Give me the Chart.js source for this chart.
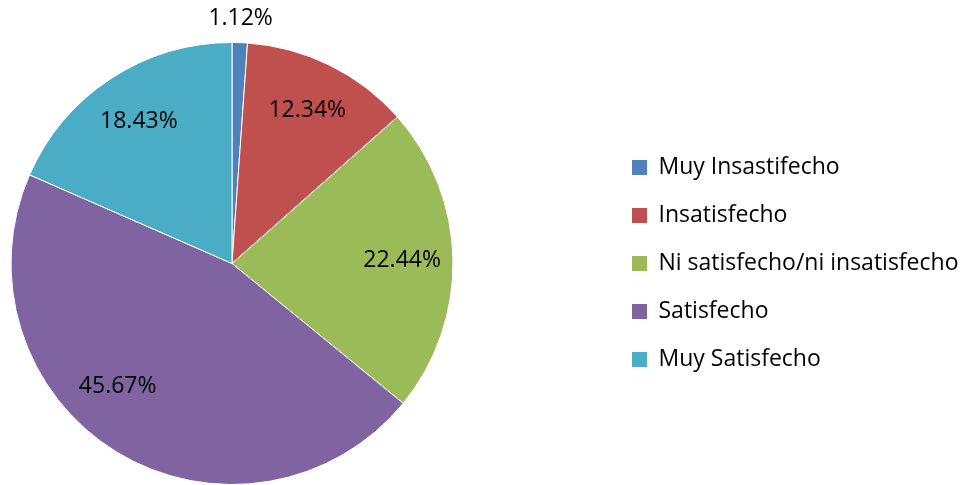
<!DOCTYPE html>
<html>
<head>
<meta charset="utf-8">
<script src="https://cdn.jsdelivr.net/npm/chart.js@4/dist/chart.umd.min.js"></script>
<style>
  html, body { margin: 0; padding: 0; background: #fff; }
  #wrap { width: 966px; height: 485px; }
</style>
</head>
<body>
<div id="wrap"><canvas id="pie" width="966" height="485"></canvas></div>
<script>
const categories = [
    "Muy Insastifecho",
    "Insatisfecho",
    "Ni satisfecho/ni insatisfecho",
    "Satisfecho",
    "Muy Satisfecho",
];
const percentages = [1.12, 12.34, 22.44, 45.67, 18.43];
const sliceColors = ["#4F81BD", "#C0504D", "#9BBB59", "#8064A2", "#4BACC6"];

const FONT = "'Open Sans', Calibri, Lato, sans-serif";
const FONT_SIZE = 23;
const LEGEND_X = 632;

// percentage labels drawn on (or just outside) each slice
const sliceLabels = {
    id: "sliceLabels",
    afterDatasetsDraw(chart) {
        const ctx = chart.ctx;
        const meta = chart.getDatasetMeta(0);
        ctx.save();
        ctx.font = `${FONT_SIZE}px ${FONT}`;
        ctx.fillStyle = "#000";
        ctx.textAlign = "center";
        ctx.textBaseline = "middle";
        meta.data.forEach((arc, i) => {
            const p = arc.getProps(["x", "y", "startAngle", "endAngle", "outerRadius"], true);
            const mid = (p.startAngle + p.endAngle) / 2;
            const outside = percentages[i] < 5;
            let r = p.outerRadius * (outside ? 1.11 : 0.77);
            let ang = mid;
            if (i === 3) { ang = mid + 0.2; r = p.outerRadius * 0.76; }
            const lx = p.x + Math.cos(ang) * r;
            const ly = p.y + Math.sin(ang) * r;
            ctx.fillText(percentages[i].toFixed(2) + "%", lx, ly);
        });
        ctx.restore();
    },
};

// keep the pie on the left and push the legend block to the right
const legendPlacement = {
    id: "legendPlacement",
    afterInit(chart) {
        const legend = chart.legend;
        const origFit = legend.fit;
        legend.fit = function () {
            origFit.call(this);
            this.width = 512;
        };
    },
    afterLayout(chart) {
        const pad = chart.options.plugins.legend.labels.padding;
        chart.legend.left = LEGEND_X - pad;
    },
};

new Chart(document.getElementById("pie"), {
    type: "pie",
    data: {
        labels: categories,
        datasets: [{
            data: percentages,
            backgroundColor: sliceColors,
            borderColor: "#ffffff",
            borderWidth: 1,
            hoverOffset: 0,
        }],
    },
    options: {
        responsive: false,
        animation: false,
        devicePixelRatio: 1,
        layout: { padding: { left: 10, top: 42, right: 0, bottom: 0 } },
        plugins: {
            tooltip: { enabled: false },
            legend: {
                position: "right",
                align: "center",
                labels: {
                    color: "#000",
                    font: { family: FONT, size: FONT_SIZE },
                    boxWidth: 15,
                    boxHeight: 15,
                    padding: 48 - FONT_SIZE,
                    generateLabels(chart) {
                        return categories.map((c, i) => ({
                            text: c,
                            fillStyle: sliceColors[i],
                            strokeStyle: sliceColors[i],
                            lineWidth: 0,
                            hidden: false,
                            index: i,
                        }));
                    },
                },
            },
        },
    },
    plugins: [sliceLabels, legendPlacement],
});
</script>
</body>
</html>
